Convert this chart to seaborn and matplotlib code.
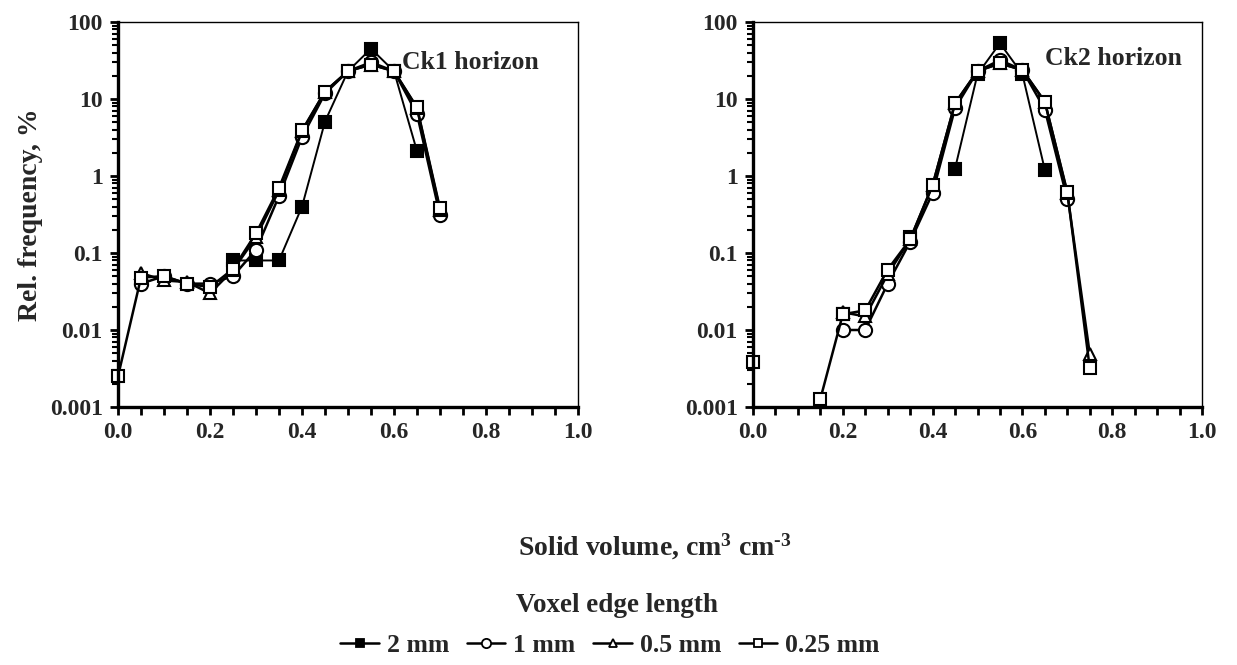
import numpy as np
import pandas as pd
import matplotlib
matplotlib.use("Agg")
import matplotlib.pyplot as plt
from matplotlib.lines import Line2D
from matplotlib.ticker import FixedLocator, FixedFormatter, MultipleLocator, LogLocator, NullFormatter
import seaborn as sns

nan = np.nan
# ---------------- data ----------------
series_names = ["2 mm", "1 mm", "0.5 mm", "0.25 mm"]

x_ck1 = [0.0, 0.05, 0.10, 0.15, 0.20, 0.25, 0.30, 0.35, 0.40, 0.45, 0.50, 0.55, 0.60, 0.65, 0.70]
ck1_2mm = [nan, nan, nan, nan, nan, 0.08, 0.08, 0.08, 0.40, 5.1, 23, 45, 23, 2.1, nan]
ck1_1mm = [nan, 0.040, 0.050, 0.040, 0.040, 0.050, 0.11, 0.55, 3.2, 11.8, 23, 30, 23, 6.4, 0.31]
ck1_05mm = [nan, 0.055, 0.044, 0.042, 0.030, 0.060, 0.16, 0.65, 3.8, 12.5, 23, 28, 23, 7.6, 0.36]
ck1_025mm = [0.0025, 0.048, 0.050, 0.040, 0.036, 0.062, 0.18, 0.70, 3.9, 12.5, 23, 28, 23, 7.8, 0.38]

x_ck2 = [0.0, 0.05, 0.10, 0.15, 0.20, 0.25, 0.30, 0.35, 0.40, 0.45, 0.50, 0.55, 0.60, 0.65, 0.70, 0.75]
ck2_2mm = [nan, nan, nan, nan, 0.016, nan, nan, 0.16, nan, 1.25, 21, 53, 21, 1.2, nan, nan]
ck2_1mm = [nan, nan, nan, nan, 0.010, 0.010, 0.040, 0.14, 0.60, 7.6, 23, 32, 23.8, 7.3, 0.50, nan]
ck2_05mm = [nan, nan, nan, nan, 0.017, 0.015, 0.053, 0.15, 0.76, 8.8, 23, 29, 23.8, 9.2, 0.60, 0.0049]
ck2_025mm = [0.0038, nan, nan, 0.00127, 0.016, 0.018, 0.061, 0.15, 0.76, 8.8, 23, 29, 23.8, 9.2, 0.62, 0.0032]

panel_titles = ["Ck1 horizon", "Ck2 horizon"]
y_ticks = [0.001, 0.01, 0.1, 1, 10, 100]
y_tick_labels = ["0.001", "0.01", "0.1", "1", "10", "100"]
x_ticks = [0.0, 0.2, 0.4, 0.6, 0.8, 1.0]
x_tick_labels = ["0.0", "0.2", "0.4", "0.6", "0.8", "1.0"]

# ---------------- style ----------------
sns.set_style("ticks")
plt.rcParams["font.family"] = ["Liberation Serif", "DejaVu Serif"]
plt.rcParams["font.weight"] = "bold"
plt.rcParams["axes.labelweight"] = "bold"
plt.rcParams["mathtext.fontset"] = "custom"
plt.rcParams["mathtext.rm"] = "Liberation Serif:bold"
plt.rcParams["mathtext.bf"] = "Liberation Serif:bold"
plt.rcParams["mathtext.it"] = "Liberation Serif:bold"

marker_styles = {
    "2 mm": dict(marker="s", mfc="black", mec="black", ms=9, lw=1.4),
    "1 mm": dict(marker="o", mfc="white", mec="black", ms=9.5, lw=1.8),
    "0.5 mm": dict(marker="^", mfc="white", mec="black", ms=8.5, lw=1.8),
    "0.25 mm": dict(marker="s", mfc="white", mec="black", ms=9, lw=1.8),
}


def to_long(x, cols):
    rows = []
    for name, vals in zip(series_names, cols):
        seg = 0
        prev_valid = False
        for xi, v in zip(x, vals):
            if np.isnan(v):
                prev_valid = False
                continue
            if not prev_valid:
                seg += 1
            prev_valid = True
            rows.append(dict(x=xi, y=v, series=name, seg=f"{name}_{seg}"))
    return pd.DataFrame(rows)


fig = plt.figure(figsize=(12.37, 6.65), dpi=100)
ax1 = fig.add_axes([118 / 1237, 1 - 407 / 665, 460 / 1237, 385 / 665])
ax2 = fig.add_axes([753 / 1237, 1 - 407 / 665, 449 / 1237, 385 / 665])

panels = [
    (ax1, to_long(x_ck1, [ck1_2mm, ck1_1mm, ck1_05mm, ck1_025mm]), panel_titles[0], (0.617, 0.895)),
    (ax2, to_long(x_ck2, [ck2_2mm, ck2_1mm, ck2_05mm, ck2_025mm]), panel_titles[1], (0.65, 0.905)),
]

for ax, df, title, tpos in panels:
    for name in series_names:
        st = marker_styles[name]
        sub = df[df.series == name]
        for seg, sdf in sub.groupby("seg", sort=False):
            sns.lineplot(data=sdf, x="x", y="y", ax=ax, color="black",
                         marker=st["marker"], markerfacecolor=st["mfc"],
                         markeredgecolor=st["mec"], markersize=st["ms"],
                         markeredgewidth=1.5, linewidth=st["lw"],
                         estimator=None, sort=False, legend=False, clip_on=False)
    ax.set_yscale("log")
    ax.set_ylim(0.001, 100)
    ax.set_xlim(0, 1.0)
    ax.yaxis.set_major_locator(FixedLocator(y_ticks))
    ax.yaxis.set_major_formatter(FixedFormatter(y_tick_labels))
    ax.yaxis.set_minor_locator(LogLocator(base=10, subs=np.arange(2, 10), numticks=20))
    ax.yaxis.set_minor_formatter(NullFormatter())
    ax.xaxis.set_major_locator(FixedLocator(x_ticks))
    ax.xaxis.set_major_formatter(FixedFormatter(x_tick_labels))
    ax.xaxis.set_minor_locator(MultipleLocator(0.05))
    ax.tick_params(axis="both", which="major", labelsize=17, width=2, length=6,
                   direction="out", color="black", pad=5)
    ax.tick_params(axis="y", which="minor", width=1.5, length=4, direction="out", color="black")
    ax.tick_params(axis="x", which="minor", width=2, length=6, direction="out", color="black")
    for lab in ax.get_xticklabels() + ax.get_yticklabels():
        lab.set_fontweight("bold")
    for sp in ["left", "bottom"]:
        ax.spines[sp].set_linewidth(2.4)
        ax.spines[sp].set_color("black")
    for sp in ["top", "right"]:
        ax.spines[sp].set_visible(True)
        ax.spines[sp].set_linewidth(1.0)
        ax.spines[sp].set_color("black")
    ax.set_xlabel("")
    ax.set_ylabel("")
    ax.text(tpos[0], tpos[1], title, transform=ax.transAxes, fontsize=18.5,
            fontweight="bold", va="center", ha="left")

ax1.set_ylabel("Rel. frequency, %", fontsize=20, fontweight="bold")
ax1.yaxis.set_label_coords(-0.163, 0.5)

fig.text(655 / 1237, 1 - 547 / 665, "Solid volume, cm$^{3}$ cm$^{\\text{-}3}$",
         ha="center", va="center", fontsize=20, fontweight="bold")
fig.text(617 / 1237, 1 - 605 / 665, "Voxel edge length", ha="center", va="center",
         fontsize=19.5, fontweight="bold")

handles = []
for name in series_names:
    st = marker_styles[name]
    handles.append(Line2D([], [], color="black", marker=st["marker"], markerfacecolor=st["mfc"],
                          markeredgecolor=st["mec"], markersize=st["ms"] * 0.7,
                          markeredgewidth=1.3, linewidth=1.8))
fig.legend(handles, series_names, loc="center", bbox_to_anchor=(610 / 1237, 1 - 645 / 665),
           ncol=4, frameon=False, handlelength=1.5, handletextpad=0.3, columnspacing=0.7,
           prop=dict(size=18.5, weight="bold"))

fig.savefig("out.png", dpi=100)
